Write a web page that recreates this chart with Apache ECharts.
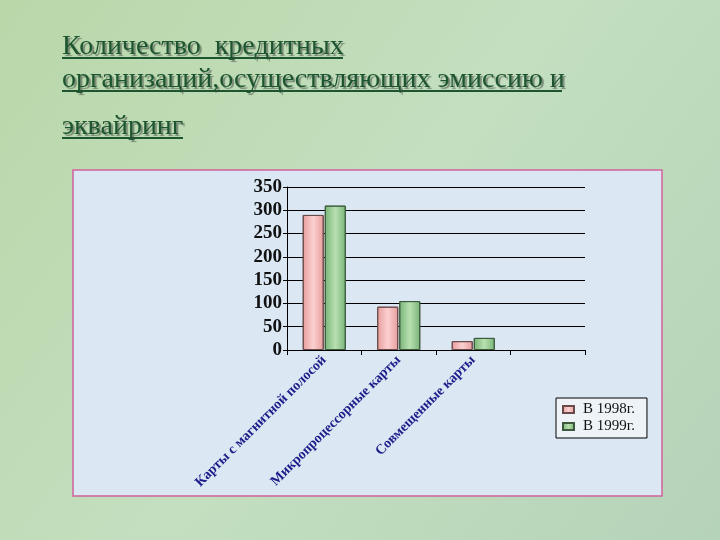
<!DOCTYPE html>
<html><head><meta charset="utf-8">
<script src="https://cdn.jsdelivr.net/npm/echarts@6/dist/echarts.min.js"></script>
<style>html,body{margin:0;padding:0;}#c{width:720px;height:540px;}</style>
</head><body><div id="c"></div>
<script>
var categories = ['Карты с магнитной полосой', 'Микропроцессорные карты', 'Совмещенные карты', ''];
var seriesNames = ['В 1998г.', 'В 1999г.'];
var values1998 = [290, 93, 19, null];
var values1999 = [310, 105, 26, null];
var yTicks = [0, 50, 100, 150, 200, 250, 300, 350];
var titleLines = ['Количество  кредитных', 'организаций,осуществляющих эмиссию и', 'эквайринг'];

var serif = '"Liberation Serif", "DejaVu Serif", serif';
var chart = echarts.init(document.getElementById('c'));
function grad(c1, c2) {
  return new echarts.graphic.LinearGradient(0, 0, 1, 0, [{offset: 0, color: c1}, {offset: 0.5, color: c2}, {offset: 1, color: c1}]);
}
var titleStyle = {fontFamily: serif, fontSize: 28, fontWeight: 'normal', color: '#1d5530',
  textShadowColor: 'rgba(60,70,60,0.55)', textShadowOffsetX: 2, textShadowOffsetY: 2, textShadowBlur: 1};
chart.setOption({
  backgroundColor: new echarts.graphic.LinearGradient(0, 0, 1, 1, [
    {offset: 0, color: '#b9d7a9'}, {offset: 0.5, color: '#c3dfc0'}, {offset: 1, color: '#b5d3b9'}]),
  title: [
    {text: titleLines[0], left: 57, top: 28, textStyle: titleStyle},
    {text: titleLines[1], left: 57, top: 61, textStyle: titleStyle},
    {text: titleLines[2], left: 57, top: 108, textStyle: titleStyle}
  ],
  graphic: [
    {type: 'rect', z: -10, shape: {x: 73, y: 170, width: 589, height: 326},
     style: {fill: '#dbe7f3', stroke: '#d2629c', lineWidth: 1.5}},
    {type: 'line', shape: {x1: 62, y1: 58, x2: 343, y2: 58}, style: {stroke: '#1d5530', lineWidth: 2}},
    {type: 'line', shape: {x1: 62, y1: 91, x2: 562, y2: 91}, style: {stroke: '#1d5530', lineWidth: 2}},
    {type: 'line', shape: {x1: 62, y1: 138, x2: 183, y2: 138}, style: {stroke: '#1d5530', lineWidth: 2}}
  ],
  legend: {
    data: seriesNames, orient: 'vertical', left: 556, top: 398,
    backgroundColor: '#eef3f8', borderColor: '#000', borderWidth: 1,
    padding: [4, 12, 4, 6], itemGap: 2, itemWidth: 11, itemHeight: 7,
    icon: 'rect',
    textStyle: {fontFamily: serif, fontSize: 15, color: '#111', padding: [0, 0, 0, 4]}
  },
  grid: {left: 287, top: 187, width: 298, height: 163},
  xAxis: {
    type: 'category', data: categories,
    axisLine: {lineStyle: {color: '#000', width: 1}},
    axisTick: {show: true, alignWithLabel: false, length: 5, lineStyle: {color: '#000'}},
    axisLabel: {rotate: 45, interval: 0, margin: 8, fontFamily: serif, fontSize: 14, fontWeight: 'bold', color: '#1c1c8a'}
  },
  yAxis: {
    type: 'value', min: 0, max: 350, interval: 50,
    axisLine: {show: true, lineStyle: {color: '#000'}},
    axisTick: {show: true, length: 4, lineStyle: {color: '#000'}},
    splitLine: {lineStyle: {color: '#000', width: 1}},
    axisLabel: {fontFamily: serif, fontSize: 19, fontWeight: 'bold', color: '#111', margin: 5,
      formatter: function (v) { return yTicks.indexOf(v) >= 0 ? String(v) : ''; }}
  },
  series: [
    {name: seriesNames[0], type: 'bar', data: values1998, barWidth: 21, barGap: '5%',
     itemStyle: {color: grad('#e89c9c', '#fbd0d0'), borderColor: '#6a4a4a', borderWidth: 1}},
    {name: seriesNames[1], type: 'bar', data: values1999, barWidth: 21,
     itemStyle: {color: grad('#79b478', '#b8e0b0'), borderColor: '#3d5a3d', borderWidth: 1}}
  ]
});
</script></body></html>
